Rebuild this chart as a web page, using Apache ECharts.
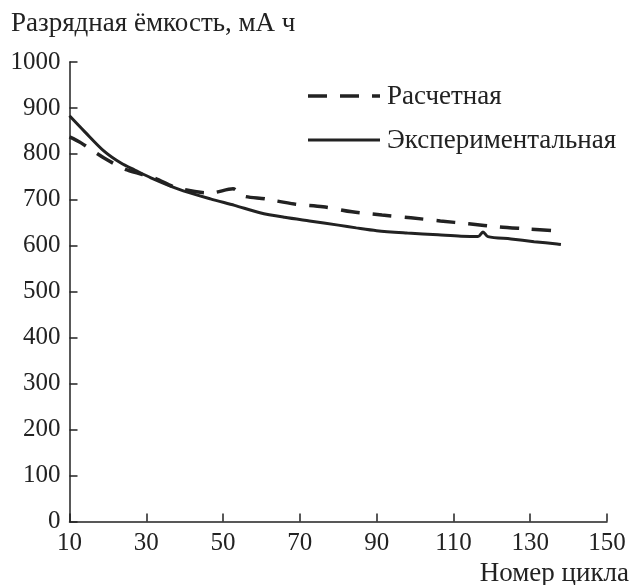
<!DOCTYPE html>
<html><head><meta charset="utf-8">
<script src="https://cdn.jsdelivr.net/npm/echarts@6/dist/echarts.min.js"></script>
<style>html,body{margin:0;padding:0;background:#fff;font-family:"Liberation Serif",serif}#c{width:632px;height:585px}</style>
</head><body><div id="c"></div>
<script>
const xTicks = [10,30,50,70,90,110,130,150];
const yTicks = [0,100,200,300,400,500,600,700,800,900,1000];
const seriesNames = ['Расчетная','Экспериментальная'];
const yTitle = 'Разрядная ёмкость, мА ч';
const xTitle = 'Номер цикла';
const calcX = [10,13,19,25,32,38,46.7,52.6,55,61,68.6,76,83.6,91.4,98.9,106.6,114,122,129,136,138];
const calcY = [837,824,791,765,748,726,715,724,709,702,691,685,674,667,661,654,648,641,637,633,631];
const expX = [10,14,19,23.4,27,31.2,38.2,46.7,53,59.6,66,72.5,80,84.7,90,98,106,112,116.4,117.7,119,125,131,137,138];
const expY = [883,848,806,780,765,748,724,702,688,672,662,654,645,639,633,628,624,621,620,630,620,615,609,604,603];

const font = '"Liberation Serif", "Times New Roman", serif';
const ink = '#222';
const dash = [19, 13];
const txt = (t, extra) => Object.assign({type: 'text', style: {text: t, fontFamily: font, fontSize: 27, fill: ink}}, extra);

function draw() {
  const chart = echarts.init(document.getElementById('c'));
  chart.setOption({
    animation: false,
    backgroundColor: '#fff',
    textStyle: {fontFamily: font},
    grid: {left: 69.5, right: 25, top: 62, bottom: 63.5},
    graphic: [
      txt(yTitle, {left: 11, top: 10}),
      txt(xTitle, {right: 3, top: 560}),
      {type: 'line', shape: {x1: 308, y1: 96, x2: 380, y2: 96}, style: {stroke: ink, lineWidth: 3.5, lineDash: dash}},
      txt(seriesNames[0], {left: 387, top: 83}),
      {type: 'line', shape: {x1: 308, y1: 140, x2: 380, y2: 140}, style: {stroke: ink, lineWidth: 3}},
      txt(seriesNames[1], {left: 387, top: 127})
    ],
    xAxis: {
      type: 'value', min: 10, max: 150, interval: 20,
      axisLine: {lineStyle: {color: ink, width: 1.5}},
      axisTick: {inside: true, length: 8, lineStyle: {color: ink, width: 1.5}},
      axisLabel: {fontFamily: font, fontSize: 25, color: ink, margin: 9,
        formatter: v => xTicks.includes(v) ? String(v) : ''},
      splitLine: {show: false}
    },
    yAxis: {
      type: 'value', min: 0, max: 1000, interval: 100,
      axisLine: {show: true, lineStyle: {color: ink, width: 1.5}},
      axisTick: {show: true, inside: true, length: 8, lineStyle: {color: ink, width: 1.5}},
      axisLabel: {fontFamily: font, fontSize: 25, color: ink, margin: 9,
        formatter: v => yTicks.includes(v) ? String(v) : ''},
      splitLine: {show: false}
    },
    series: [
      {name: seriesNames[0], type: 'line', showSymbol: false, symbol: 'none', smooth: 0.3,
       data: calcX.map((x,i)=>[x, calcY[i]]),
       lineStyle: {color: ink, width: 3.5, type: dash}},
      {name: seriesNames[1], type: 'line', showSymbol: false, symbol: 'none', smooth: 0.3,
       data: expX.map((x,i)=>[x, expY[i]]),
       lineStyle: {color: ink, width: 3}}
    ]
  });
}
if (document.fonts && document.fonts.load) {
  document.fonts.load('27px "Liberation Serif"').then(draw, draw);
} else { draw(); }
</script></body></html>
